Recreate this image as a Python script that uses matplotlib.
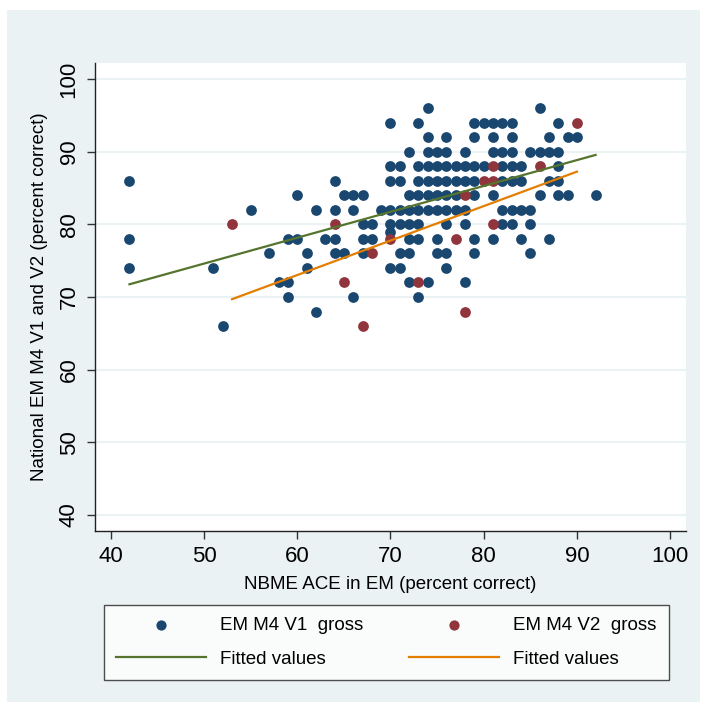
import numpy as np
import matplotlib.pyplot as plt
from matplotlib.patches import Rectangle

plt.rcParams['font.family'] = ['Liberation Sans', 'DejaVu Sans']

# EM M4 V1 gross, listed by score row (y) then NBME ACE scores (x)
v1_rows = {
    96: [74, 86],
    94: [70, 73, 79, 80, 81, 82, 83, 88],
    92: [74, 76, 79, 81, 83, 87, 89, 90],
    90: [72, 74, 75, 76, 78, 81, 82, 83, 85, 86, 87, 88],
    88: [70, 71, 73, 74, 75, 76, 77, 78, 79, 80, 82, 83, 84, 88],
    86: [42, 64, 70, 71, 73, 74, 75, 76, 77, 78, 79, 82, 83, 84, 87, 88],
    84: [60, 65, 66, 67, 72, 73, 74, 75, 76, 77, 79, 81, 86, 88, 89, 92],
    82: [55, 62, 64, 66, 69, 70, 71, 72, 73, 74, 75, 76, 77, 78, 82, 83, 84, 85],
    80: [67, 68, 70, 71, 72, 73, 76, 78, 82, 83, 85],
    79: [70],
    78: [42, 59, 60, 63, 64, 67, 68, 72, 73, 75, 79, 81, 84, 87],
    76: [57, 61, 64, 65, 67, 71, 72, 75, 76, 79, 85],
    74: [42, 51, 61, 70, 71, 76],
    72: [58, 59, 72, 74, 78],
    70: [59, 66, 73],
    68: [62],
    66: [52],
}
v1_x = [x for y, xs in v1_rows.items() for x in xs]
v1_y = [y for y, xs in v1_rows.items() for x in xs]

# EM M4 V2 gross
v2_x = [53, 64, 65, 67, 68, 70, 73, 77, 78, 78, 80, 81, 81, 81, 86, 90]
v2_y = [80, 80, 72, 66, 76, 78, 72, 78, 84, 68, 86, 86, 88, 80, 88, 94]

# fitted lines (end points)
fit1_x = [42, 92]
fit1_y = [71.75, 89.55]
fit2_x = [53, 90]
fit2_y = [69.7, 87.25]

x_ticks = [40, 50, 60, 70, 80, 90, 100]
y_ticks = [40, 50, 60, 70, 80, 90, 100]

navy = '#1a476f'
maroon = '#90353b'
green = '#55752f'
orange = '#e37e00'
bg = '#eaf2f3'

fig = plt.figure(figsize=(7.01, 7.02), dpi=100)
fig.patch.set_facecolor('white')
fig.patches.append(Rectangle((7 / 701, 0), 693 / 701, 692 / 702, transform=fig.transFigure,
                             facecolor=bg, edgecolor='none', zorder=-10))

ax = fig.add_axes([95 / 701, 1 - 531 / 702, 591 / 701, 468 / 702])
ax.set_facecolor('white')

ax.scatter(v1_x, v1_y, s=60, color=navy, linewidths=0, zorder=3, label='EM M4 V1  gross')
ax.scatter(v2_x, v2_y, s=60, color=maroon, linewidths=0, zorder=4, label='EM M4 V2  gross')
ax.plot(fit1_x, fit1_y, color=green, lw=1.6, zorder=5, label='Fitted values')
ax.plot(fit2_x, fit2_y, color=orange, lw=1.6, zorder=5, label='Fitted values')

ax.set_xlim(38.3, 101.7)
ax.set_ylim(37.8, 102.2)
ax.set_xticks(x_ticks)
ax.set_yticks(y_ticks)
ax.tick_params(axis='both', direction='out', length=6, width=1, color='#333333',
               labelsize=16, pad=5)
ax.tick_params(axis='y', labelrotation=90)
for lab in ax.get_yticklabels():
    lab.set_va('center')
ax.grid(axis='y', color=bg, lw=1.5)
ax.set_axisbelow(True)
for side in ['top', 'right']:
    ax.spines[side].set_visible(False)
for side in ['left', 'bottom']:
    ax.spines[side].set_color('#222222')
    ax.spines[side].set_linewidth(1)

ax.set_xlabel('NBME ACE in EM (percent correct)', fontsize=13.5, labelpad=6)
ax.set_ylabel('National EM M4 V1 and V2 (percent correct)', fontsize=13.5, labelpad=8)

h, l = ax.get_legend_handles_labels()
order = [0, 2, 1, 3]
leg = fig.legend([h[i] for i in order], [l[i] for i in order],
                 loc='upper left', ncol=2,
                 bbox_to_anchor=(104 / 701, 1 - 605 / 702),
                 borderaxespad=0, fontsize=13.5, handlelength=4.8, handletextpad=0.75,
                 columnspacing=2.42,
                 frameon=True, fancybox=False, edgecolor='#222222', borderpad=0.65,
                 labelspacing=0.88, markerscale=0.95, scatterpoints=1)
leg.get_frame().set_linewidth(1)

fig.savefig('out.png', dpi=100, facecolor=fig.get_facecolor())
